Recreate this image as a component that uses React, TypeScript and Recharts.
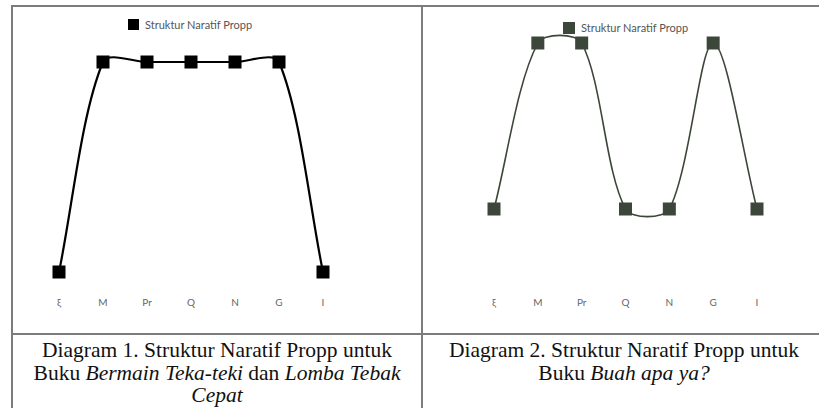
import React from 'react';
import { LineChart, Line, XAxis, YAxis, Legend } from 'recharts';

const stages = ['ξ', 'M', 'Pr', 'Q', 'N', 'G', 'I'];
const propp1 = [1, 2, 2, 2, 2, 2, 1];
const propp2 = [1, 2, 2, 1, 1, 2, 1];
const seriesName = 'Struktur Naratif Propp';

const data1 = stages.map((s, i) => ({ stage: s, value: propp1[i] }));
const data2 = stages.map((s, i) => ({ stage: s, value: propp2[i] }));

const CHART_FONT = 'Lato, "Open Sans", sans-serif';
const BORDER = '#7c7c7c';

// chart.js style spline, so the line overshoots a bit between flat points
const splineCurve = (tension: number) => (context: any) => {
    let pts: number[][] = [];
    return {
        areaStart() {},
        areaEnd() {},
        lineStart() { pts = []; },
        point(x: number, y: number) { pts.push([+x, +y]); },
        lineEnd() {
            if (!pts.length) return;
            const n = pts.length;
            const cpPrev: number[][] = [];
            const cpNext: number[][] = [];
            for (let i = 0; i < n; i++) {
                const prev = pts[i - 1] || pts[i];
                const cur = pts[i];
                const next = pts[i + 1] || pts[i];
                const d01 = Math.hypot(cur[0] - prev[0], cur[1] - prev[1]);
                const d12 = Math.hypot(next[0] - cur[0], next[1] - cur[1]);
                let s01 = d01 / (d01 + d12);
                let s12 = d12 / (d01 + d12);
                if (isNaN(s01)) s01 = 0;
                if (isNaN(s12)) s12 = 0;
                const fa = tension * s01;
                const fb = tension * s12;
                cpPrev.push([cur[0] - fa * (next[0] - prev[0]), cur[1] - fa * (next[1] - prev[1])]);
                cpNext.push([cur[0] + fb * (next[0] - prev[0]), cur[1] + fb * (next[1] - prev[1])]);
            }
            context.moveTo(pts[0][0], pts[0][1]);
            for (let i = 1; i < n; i++) {
                context.bezierCurveTo(
                    cpNext[i - 1][0], cpNext[i - 1][1],
                    cpPrev[i][0], cpPrev[i][1],
                    pts[i][0], pts[i][1]
                );
            }
        },
    };
};

const SquareDot = ({ cx, cy, fill, size }: any) => {
    if (cx == null || cy == null) return null;
    return <rect x={cx - size / 2} y={cy - size / 2} width={size} height={size} fill={fill} />;
};

const renderLegend = (color: string, box: number) => () => (
    <div style={{ display: 'flex', alignItems: 'center', fontFamily: CHART_FONT, fontSize: 11, color: '#555', whiteSpace: 'nowrap' }}>
        <span style={{ display: 'inline-block', width: box, height: box, background: color, marginRight: 6 }} />
        {seriesName}
    </div>
);

interface ProppChartProps {
    data: { stage: string; value: number }[];
    color: string;
    strokeWidth: number;
    domain: [number, number];
    margin: { top: number; right: number; bottom: number; left: number };
    tickMargin: number;
    legendPos: { left: number; top: number };
    box: number;
}

const ProppChart: React.FC<ProppChartProps> = ({ data, color, strokeWidth, domain, margin, tickMargin, legendPos, box }) => (
    <LineChart width={400} height={330} data={data} margin={margin}>
        <XAxis
            dataKey="stage"
            axisLine={false}
            tickLine={false}
            height={30}
            interval={0}
            tickMargin={tickMargin}
            tick={{ fill: '#666', fontSize: 10, fontFamily: CHART_FONT }}
        />
        <YAxis hide domain={domain} scale="linear" />
        <Legend
            layout="horizontal"
            verticalAlign="middle"
            align="center"
            content={renderLegend(color, box)}
            wrapperStyle={{ position: 'absolute', left: legendPos.left, top: legendPos.top, width: 'auto', height: 'auto' }}
        />
        <Line
            dataKey="value"
            name={seriesName}
            type={splineCurve(0.3) as any}
            stroke={color}
            strokeWidth={strokeWidth}
            dot={(p: any) => <SquareDot key={`dot-${p.index}`} cx={p.cx} cy={p.cy} fill={color} size={13} />}
            activeDot={false}
            isAnimationActive={false}
        />
    </LineChart>
);

const captionStyle: React.CSSProperties = {
    position: 'absolute',
    top: 339,
    fontFamily: '"Liberation Serif", "Times New Roman", serif',
    fontSize: 21.5,
    lineHeight: '22.5px',
    color: '#111',
    textAlign: 'center',
    whiteSpace: 'nowrap',
};

export default function App() {
    return (
        <div style={{ position: 'absolute', left: 0, top: 0, width: 819, height: 408, background: '#fff', overflow: 'hidden' }}>
            {/* table borders */}
            <div style={{ position: 'absolute', left: 11, top: 5, width: 820, height: 2, background: BORDER }} />
            <div style={{ position: 'absolute', left: 11, top: 5, width: 2, height: 410, background: BORDER }} />
            <div style={{ position: 'absolute', left: 421, top: 5, width: 2, height: 410, background: BORDER }} />
            <div style={{ position: 'absolute', left: 11, top: 333, width: 820, height: 2, background: BORDER }} />

            <div style={{ position: 'absolute', left: 0, top: 0 }}>
                <ProppChart
                    data={data1}
                    color="#000"
                    strokeWidth={2.2}
                    domain={[1, 2]}
                    margin={{ top: 62, right: 77, bottom: 28, left: 59 }}
                    tickMargin={21}
                    legendPos={{ left: 128, top: 18 }}
                    box={11}
                />
            </div>
            <div style={{ position: 'absolute', left: 420, top: 0 }}>
                <ProppChart
                    data={data2}
                    color="#3d463a"
                    strokeWidth={1.6}
                    domain={[0.5, 2]}
                    margin={{ top: 43, right: 63, bottom: 8, left: 74 }}
                    tickMargin={1}
                    legendPos={{ left: 143, top: 21 }}
                    box={12}
                />
            </div>

            <div style={{ ...captionStyle, left: 13, width: 408 }}>
                Diagram 1. Struktur Naratif Propp untuk<br />
                Buku <i>Bermain Teka-teki</i> dan <i>Lomba Tebak</i><br />
                <i>Cepat</i>
            </div>
            <div style={{ ...captionStyle, left: 423, width: 402 }}>
                Diagram 2. Struktur Naratif Propp untuk<br />
                Buku <i>Buah apa ya?</i>
            </div>
        </div>
    );
}
